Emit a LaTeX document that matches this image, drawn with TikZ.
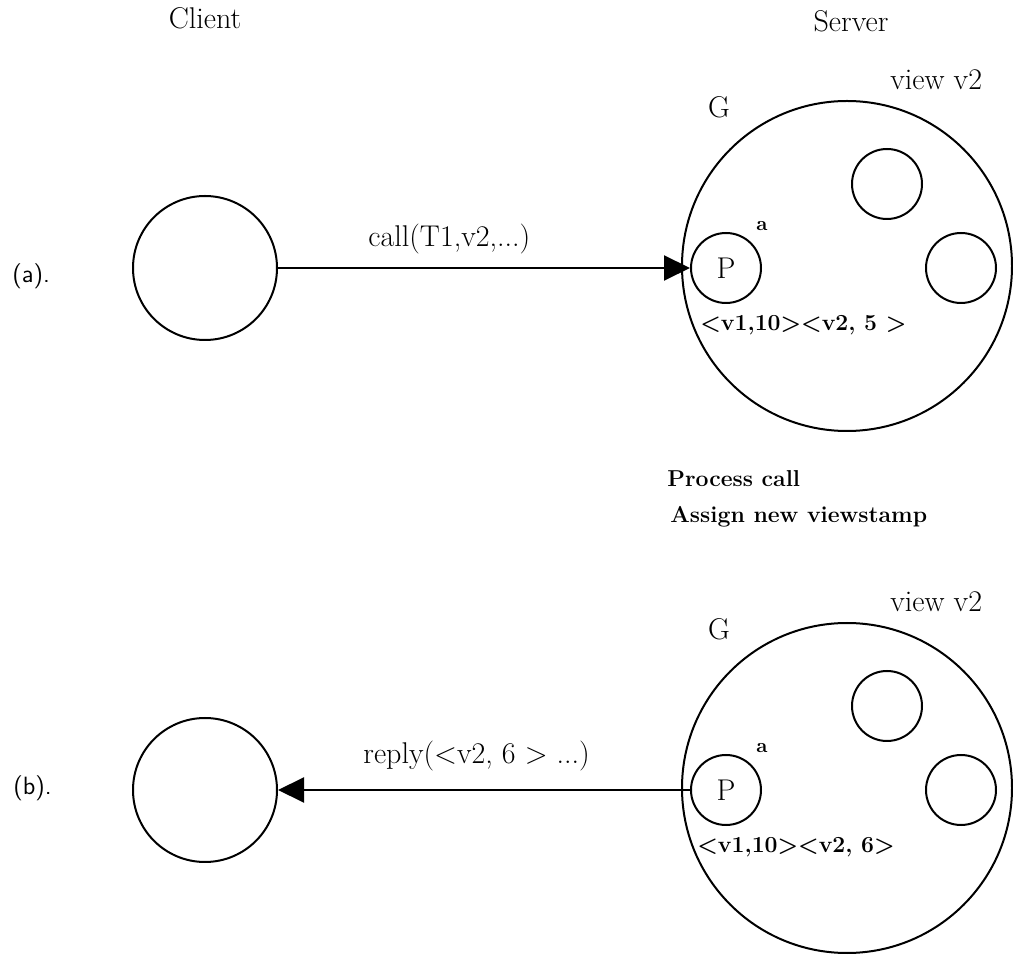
\documentclass[tikz,border=0pt]{standalone}
\usepackage{fontspec}
\usetikzlibrary{arrows.meta}
\begin{document}
\begin{tikzpicture}[x=0.5pt,y=-0.5pt,
  ln/.style={line width=1pt},
  circ/.style={draw,circle,ln,inner sep=0pt},
  clientc/.style={circ,minimum size=72pt},
  groupc/.style={circ,minimum size=165pt},
  procc/.style={circ,minimum size=35pt,font=\fontsize{15}{18}\selectfont},
  biglbl/.style={font=\fontsize{15}{18}\selectfont,inner sep=0pt},
  boldlbl/.style={font=\fontsize{11.5}{14}\selectfont\bfseries,inner sep=0pt},
  suplbl/.style={font=\fontsize{10}{12}\selectfont\bfseries,inner sep=0pt},
  partlbl/.style={font=\fontsize{12.5}{15}\selectfont\sffamily,inner sep=0pt},
  msg/.style={ln,-{Triangle[length=13pt,width=12.5pt]}}
]
\useasboundingbox (0,0) rectangle (1013,956);
\node[biglbl,anchor=base] (client) at (205,29) {Client};
\node[biglbl,anchor=base] (server) at (851,32) {Server};

% ---------- (a) ----------
\node[partlbl,anchor=base west] (la) at (12,283) {(a).};
\node[clientc] (c1) at (205,268) {};
\node[groupc] (g1) at (847,266) {};
\node[biglbl,anchor=base] (G1) at (719,118) {G};
\node[biglbl,anchor=base west] (v1) at (890,90) {view v2};
\node[procc] (p1) at (726,268) {P};
\node[procc] (q1) at (887,184) {};
\node[procc] (r1) at (961,268) {};
\node[suplbl,anchor=base] (a1) at (762,231) {a};
\node[boldlbl,anchor=base west] (s1) at (700,331) {<v1,10><v2, 5 >};
\draw[msg] (c1) -- (p1);
\node[biglbl,anchor=base west] (call) at (368,247) {call(T1,v2,...)};

\node[boldlbl,anchor=base west] (t1) at (667,487) {Process call};
\node[boldlbl,anchor=base west] (t2) at (670,523) {Assign new viewstamp};

% ---------- (b) ----------
\node[partlbl,anchor=base west] (lb) at (13,795) {(b).};
\node[clientc] (c2) at (205,790) {};
\node[groupc] (g2) at (847,788) {};
\node[biglbl,anchor=base] (G2) at (719,640) {G};
\node[biglbl,anchor=base west] (v2) at (890,612) {view v2};
\node[procc] (p2) at (726,790) {P};
\node[procc] (q2) at (887,706) {};
\node[procc] (r2) at (961,790) {};
\node[suplbl,anchor=base] (a2) at (762,753) {a};
\node[boldlbl,anchor=base west] (s2) at (697,853) {<v1,10><v2, 6>};
\draw[msg] (p2) -- (c2);
\node[biglbl,anchor=base west] (reply) at (363,764) {reply(<v2, 6 > ...)};
\end{tikzpicture}
\end{document}
